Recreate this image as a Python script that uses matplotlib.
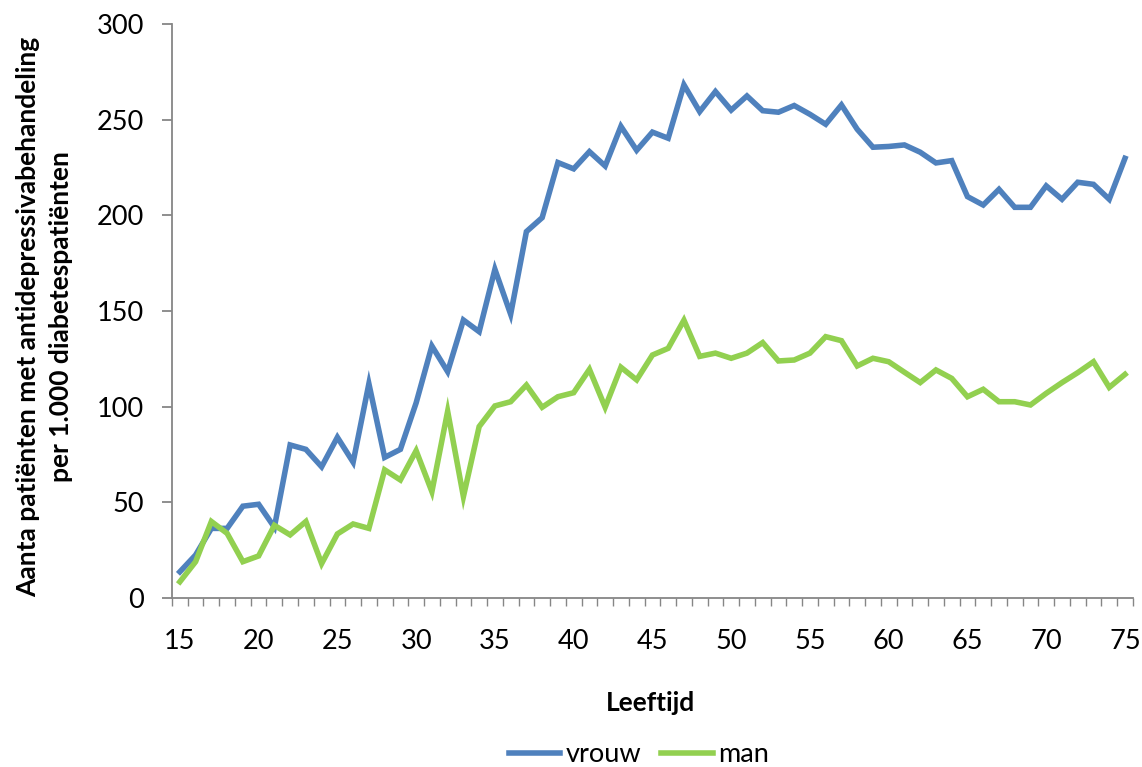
import numpy as np
import matplotlib.pyplot as plt
from matplotlib.ticker import FixedLocator

# Data
leeftijd = list(range(15, 76))

vrouw = [13.7, 22.5, 36.4, 36.4, 48.0, 49.0, 37.0, 80.0, 77.7, 68.6,
         84.0, 71.0, 112.0, 73.5, 77.7, 102.0, 131.7, 118.3, 145.3, 139.2,
         171.8, 148.3, 191.5, 198.8, 227.6, 224.3, 233.3, 225.8, 246.5, 234.0,
         243.5, 240.3, 268.2, 254.2, 264.7, 255.0, 262.4, 254.7, 253.9, 257.4,
         252.8, 247.6, 257.7, 245.0, 235.6, 236.0, 236.8, 233.0, 227.4, 228.6,
         209.8, 205.4, 213.6, 204.2, 204.2, 215.4, 208.4, 217.3, 216.2, 208.4,
         229.8]

man = [8.5, 19.0, 40.0, 33.8, 19.0, 22.0, 38.0, 33.0, 40.0, 18.0,
       33.5, 38.7, 36.4, 67.0, 61.7, 77.0, 55.6, 97.6, 53.0, 89.6,
       100.4, 102.6, 111.3, 99.7, 105.2, 107.3, 119.5, 99.7, 120.6, 114.0,
       127.0, 130.5, 145.2, 126.3, 128.0, 125.3, 128.0, 133.5, 123.9, 124.4,
       128.0, 136.6, 134.5, 121.3, 125.3, 123.5, 118.0, 112.6, 119.2, 114.8,
       105.2, 109.1, 102.6, 102.6, 100.9, 107.0, 112.6, 117.8, 123.5, 110.1,
       116.9]

y_ticks = [0, 50, 100, 150, 200, 250, 300]
x_labels = list(range(15, 76, 5))

blue = '#4F81BD'
green = '#92D050'
axis_grey = '#868686'

plt.rcParams['font.family'] = ['Lato', 'DejaVu Sans']

fig = plt.figure(figsize=(11.42, 7.67), dpi=100)
ax = fig.add_axes([0.1506, 0.2203, 0.8414, 0.7484])

ax.plot(leeftijd, vrouw, color=blue, lw=4, solid_joinstyle='miter', label='vrouw')
ax.plot(leeftijd, man, color=green, lw=4, solid_joinstyle='miter', label='man')

ax.set_xlim(14.5, 75.5)
ax.set_ylim(0, 300)

for s in ['top', 'right']:
    ax.spines[s].set_visible(False)
for s in ['left', 'bottom']:
    ax.spines[s].set_color(axis_grey)
    ax.spines[s].set_linewidth(1.3)

ax.set_yticks(y_ticks)
ax.tick_params(axis='y', direction='out', length=7, width=1.3, color=axis_grey,
               labelsize=19.5, pad=13)

ax.set_xticks(x_labels)
ax.xaxis.set_minor_locator(FixedLocator(np.arange(14.5, 76, 1)))
ax.tick_params(axis='x', which='major', length=0, labelsize=19.5, pad=22)
ax.tick_params(axis='x', which='minor', direction='out', length=6,
               color=axis_grey, width=1)

fig.text(0.039, 0.587,
         'Aanta patiënten met antidepressivabehandeling\nper 1.000 diabetespatiënten',
         rotation=90, ha='center', va='center', fontsize=19,
         fontweight='bold', linespacing=1.4)

fig.text(0.5695, 0.083, 'Leeftijd', ha='center', va='center',
         fontsize=19, fontweight='bold')

fig.legend(loc='center', bbox_to_anchor=(0.5595, 0.016), ncol=2, frameon=False,
           fontsize=19.5, handlelength=1.9, handletextpad=0.2, columnspacing=0.75)

plt.savefig('out.png', dpi=100)
